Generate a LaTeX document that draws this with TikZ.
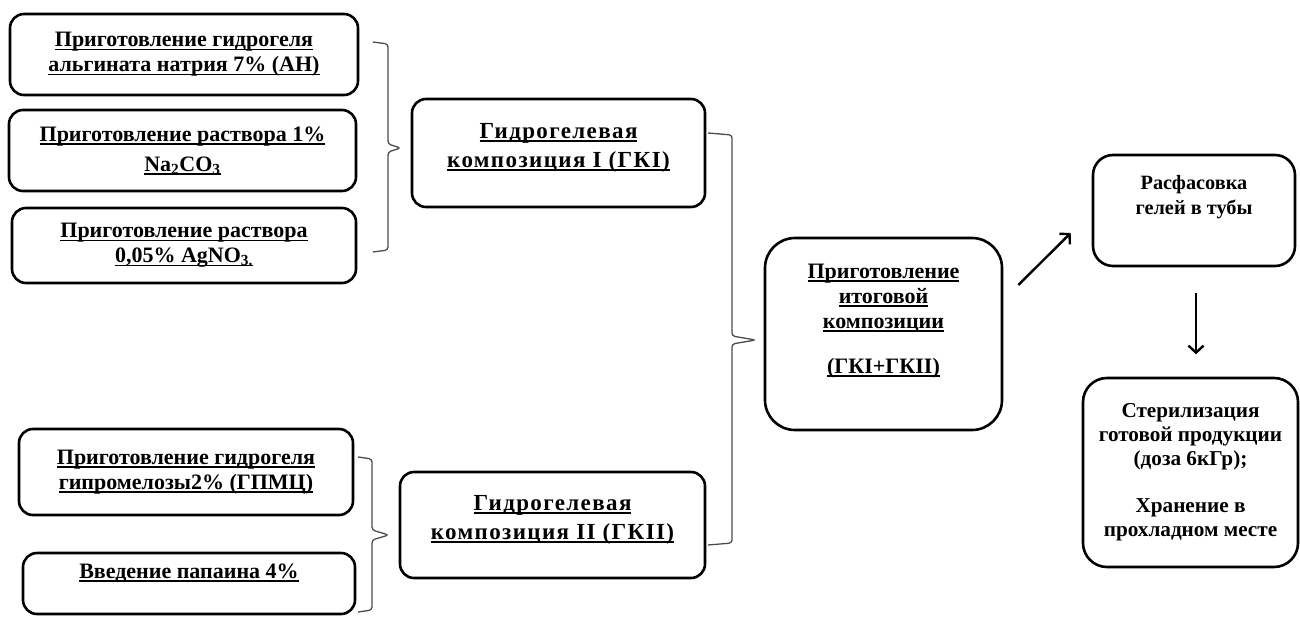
\documentclass[tikz,border=0pt]{standalone}
\usepackage{fontspec}
\setmainfont{Liberation Serif}
\usetikzlibrary{arrows.meta,positioning}

\newsavebox\ulbox
\newcommand\undl[1]{\sbox\ulbox{#1}\rlap{\rule[-3.5pt]{\wd\ulbox}{1.6pt}}\usebox\ulbox}

\tikzset{
  stepbox/.style={draw, line width=2.6pt, rounded corners=14pt, align=center,
    font=\bfseries\fontsize{22}{25}\selectfont, inner sep=0pt},
  bigbox/.style={stepbox, font=\bfseries\fontsize{23}{29}\selectfont\addfontfeature{LetterSpace=6}},
  brk/.style={draw=black!70, line width=1.3pt, rounded corners=3pt},
  arr/.style={line width=2.4pt, -{Straight Barb[length=7pt,width=15pt]}}
}

\begin{document}
\begin{tikzpicture}[x=1pt,y=-1pt]
    \useasboundingbox (0,0) rectangle (1300,616);

    % first group
    \node[stepbox, minimum width=348pt, minimum height=81pt] (an) at (184,54.5) {\undl{Приготовление гидрогеля}\\\undl{альгината натрия 7\% (АН)}};
    \node[stepbox, minimum width=347pt, minimum height=81pt] (soda) at (182.5,150.5) {\undl{Приготовление раствора 1\%}\\[5pt]\undl{Na\textsubscript{2}CO\textsubscript{3}}};
    \node[stepbox, minimum width=344pt, minimum height=75pt] (silver) at (184,245.5) {\undl{Приготовление раствора}\\\undl{0,05\% AgNO\textsubscript{3.}}};
    \node[bigbox, minimum width=293pt, minimum height=108pt, text depth=15pt] (gk1) at (558.5,153) {\undl{Гидрогелевая}\\\undl{композиция I (ГКI)}};

    % second group
    \node[stepbox, minimum width=334pt, minimum height=86pt] (hpmc) at (186,472) {\undl{Приготовление гидрогеля}\\\undl{гипромелозы2\% (ГПМЦ)}};
    \node[stepbox, minimum width=332pt, minimum height=61pt, text depth=25pt] (papain) at (189,583.5) {\undl{Введение папаина 4\%}};
    \node[bigbox, minimum width=305pt, minimum height=106pt, text depth=15pt] (gk2) at (552.5,525) {\undl{Гидрогелевая}\\\undl{композиция II (ГКII)}};

    % final steps
    \node[stepbox, rounded corners=30pt, minimum width=237pt, minimum height=192pt, text depth=31pt] (mix) at (883.5,334) {\undl{Приготовление}\\\undl{итоговой}\\\undl{композиции}\\[20pt]\undl{(ГКI+ГКII)}};
    \node[stepbox, rounded corners=20pt, minimum width=202pt, minimum height=111pt, text depth=31pt, font=\bfseries\fontsize{20.3}{25}\selectfont] (tubes) at (1194,210.5) {Расфасовка\\гелей в тубы};
    \node[stepbox, rounded corners=24pt, minimum width=215pt, minimum height=189pt, font=\bfseries\fontsize{21.2}{24}\selectfont] (store) at (1190.5,472.5) {Стерилизация\\готовой продукции\\(доза 6кГр);\\[23pt]Хранение в\\прохладном месте};

    % brackets
    \draw[brk] (373,42) -- (388,44) -- (388,144) -- ([shift={(-10,-5)}]gk1.west) -- (388,152) -- (388,250) -- (373,252);
    \draw[brk] (708,133) -- (732,135) -- (732,336) -- ([shift={(-8,6)}]mix.west) -- (732,344) -- (732,543) -- (708,545);
    \draw[brk] (358,457) -- (372,459) -- (372,530) -- ([shift={(-10,10)}]gk2.west) -- (372,540) -- (372,610) -- (358,612);

    % arrows
    \draw[arr] ([shift={(15,-49)}]mix.east) -- ([shift={(-21,22.5)}]tubes.west);
    \draw[arr] ([shift={(2,26)}]tubes.south) -- ++(0,61);
\end{tikzpicture}
\end{document}
